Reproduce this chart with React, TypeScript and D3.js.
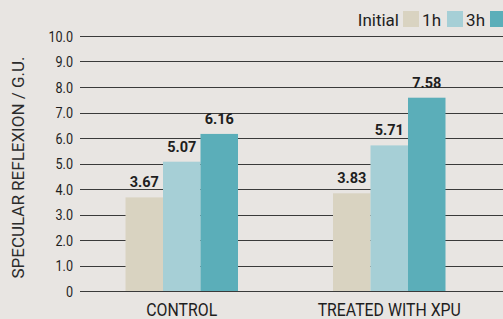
import React from 'react';
import * as d3 from 'd3';

const categories = ['CONTROL', 'TREATED WITH XPU'];
const seriesNames = ['Initial', '1h', '3h'];
const seriesColors = ['#d9d3c1', '#a6cfd6', '#5baeb9'];
const values = [
  [3.67, 5.07, 6.16],
  [3.83, 5.71, 7.58],
];
const yTicks = [0, 1, 2, 3, 4, 5, 6, 7, 8, 9, 10];

const W = 503;
const H = 319;
const FONT = 'Roboto, sans-serif';

// condensed-looking text: Roboto squeezed horizontally
function CText({ x, y, sx = 0.86, anchor = 'start', size, weight = 'normal', children }: any) {
  return (
    <text transform={`translate(${x},${y}) scale(${sx},1)`} textAnchor={anchor}
      fontFamily={FONT} fontSize={size} fontWeight={weight} fill="#1e1e1e">
      {children}
    </text>
  );
}

export default function App() {
  const y = d3.scaleLinear().domain([0, 10]).range([291, 36]);
  const x0 = d3.scaleBand<string>().domain(categories).range([78, 493]).padding(0);
  const groupW = 112.5;
  const x1 = d3.scaleBand<string>().domain(seriesNames).range([-groupW / 2, groupW / 2]).padding(0);

  // legend layout (right aligned, clipped at the window edge like the original)
  const legend = [
    { name: 'Initial', tx: 399, sx: 403 },
    { name: '1h', tx: 441, sx: 447 },
    { name: '3h', tx: 485, sx: 490 },
  ];

  return (
    <div style={{ position: 'fixed', left: 0, top: 0 }}>
      <svg width={W} height={H} style={{ display: 'block', background: '#e8e5e2' }}>
        {/* grid */}
        {yTicks.map(t => (
          <g key={t}>
            <line x1={80} x2={W} y1={Math.round(y(t)) + 0.5} y2={Math.round(y(t)) + 0.5}
              stroke="#3a3a3a" strokeWidth={1} />
            <CText x={73} y={y(t) + 5.5} anchor="end" size={15} sx={0.84}>
              {t === 0 ? '0' : t.toFixed(1)}
            </CText>
          </g>
        ))}

        {/* bars */}
        {categories.map((c, ci) => (
          <g key={c} transform={`translate(${x0(c)! + x0.bandwidth() / 2},0)`}>
            {seriesNames.map((s, si) => {
              const v = values[ci][si];
              const bx = x1(s)!;
              return (
                <g key={s}>
                  <rect x={bx} y={y(v)} width={x1.bandwidth()} height={y(0) - y(v)} fill={seriesColors[si]} />
                  <text x={bx + x1.bandwidth() / 2} y={y(v) - 10} textAnchor="middle"
                    fontFamily={FONT} fontWeight="bold" fontSize={14.5} fill="#1e1e1e">
                    {v.toFixed(2)}
                  </text>
                </g>
              );
            })}
            <CText x={0} y={316} anchor="middle" size={18} sx={0.88}>{c}</CText>
          </g>
        ))}

        {/* y title */}
        <text transform={`translate(24,${(53 + 282) / 2}) rotate(-90)`} textAnchor="middle"
          fontFamily={FONT} fontSize={17} fill="#2b2b2b">
          SPECULAR REFLEXION / G.U.
        </text>

        {/* legend */}
        {legend.map((l, i) => (
          <g key={l.name}>
            <text x={l.tx} y={26} textAnchor="end" fontFamily={FONT} fontSize={17} fill="#1e1e1e">{l.name}</text>
            <rect x={l.sx} y={11} width={16} height={16} fill={seriesColors[i]} />
          </g>
        ))}
      </svg>
    </div>
  );
}
